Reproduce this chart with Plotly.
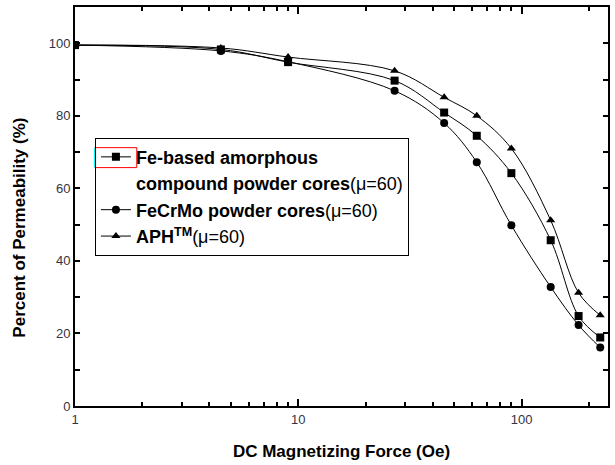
import plotly.graph_objects as go

# Data
dc_force = [1, 4.5, 9, 27, 45, 63, 90, 135, 180, 225]
fe_based = [99.5, 98.3, 94.8, 89.7, 80.9, 74.5, 64.2, 45.7, 24.8, 18.9]
fecrmo = [99.5, 97.9, 94.9, 86.9, 78.0, 67.2, 49.8, 32.8, 22.3, 16.1]
aph = [99.5, 98.7, 96.2, 92.4, 85.1, 80.0, 71.0, 51.2, 31.2, 25.0]

series_names = [
    "<b>Fe-based amorphous</b>",
    "<b>FeCrMo powder cores</b>(μ=60)",
    "<b>APH</b><sup><b>TM</b></sup>(μ=60)",
]
legend_continuation = "<b>compound powder cores</b>(μ=60)"
series_values = [fe_based, fecrmo, aph]
series_symbols = ["square", "circle", "triangle-up"]

x_major = [1, 10, 100]
x_major_text = ["1", "10", "100"]
x_minor = [m * d for d in (1, 10, 100) for m in range(2, 10) if m * d < 244]
y_ticks = [0, 20, 40, 60, 80, 100]

fig = go.Figure()
for i, (name, vals, sym) in enumerate(zip(series_names, series_values, series_symbols)):
    fig.add_trace(go.Scatter(
        x=dc_force, y=vals, name=name, mode="lines+markers",
        line=dict(color="black", width=1, shape="spline", smoothing=1.0),
        marker=dict(symbol=sym, size=8, color="black"),
    ))
    if i == 0:
        # second line of the first legend entry (text only)
        fig.add_trace(go.Scatter(
            x=[None], y=[None], name=legend_continuation, mode="lines",
            line=dict(color="rgba(0,0,0,0)", width=0), hoverinfo="skip",
        ))

L, R, T, B = 75, 5, 6, 59
W, H = 615, 465
pw, ph = W - L - R, H - T - B


def px_x(p):
    return (p - L) / pw


def px_y(p):
    return (H - B - p) / ph


fig.update_layout(
    width=W, height=H,
    margin=dict(l=L, r=R, t=T, b=B),
    paper_bgcolor="white", plot_bgcolor="white",
    font=dict(family="Liberation Sans, Arial, sans-serif", color="black"),
    showlegend=True,
    legend=dict(
        x=px_x(95), y=px_y(137), xanchor="left", yanchor="top",
        bordercolor="black", borderwidth=1, bgcolor="rgba(255,255,255,0)",
        font=dict(size=18, color="black"),
        itemwidth=30, tracegroupgap=0,
    ),
    xaxis=dict(
        type="log", range=[0, 2.387],
        tickvals=x_major, ticktext=x_major_text,
        ticks="inside", ticklen=7, tickwidth=2, tickcolor="black",
        showline=True, linewidth=2, linecolor="black", mirror="ticks",
        showgrid=False, zeroline=False,
        tickfont=dict(size=13, color="#333344"),
        minor=dict(tickvals=x_minor, ticks="inside", ticklen=4, tickwidth=2,
                   tickcolor="black", showgrid=False),
        title=dict(text="<b>DC Magnetizing Force (Oe)</b>", font=dict(size=17), standoff=20),
    ),
    yaxis=dict(
        range=[0, 110], tickvals=y_ticks,
        ticks="inside", ticklen=5, tickwidth=2, tickcolor="black",
        showline=True, linewidth=2, linecolor="black", mirror="ticks",
        showgrid=False, zeroline=False,
        tickfont=dict(size=13, color="#333344"),
        minor=dict(dtick=10, ticks="inside", ticklen=5, tickwidth=2,
                   tickcolor="black", showgrid=False),
    ),
    annotations=[
        dict(text="<b>Percent of Permeability (%)</b>", xref="paper", yref="paper",
             x=px_x(19), y=px_y(227), xanchor="center", yanchor="middle",
             textangle=-90, showarrow=False, font=dict(size=17, color="black")),
    ],
    shapes=[
        dict(type="rect", xref="paper", yref="paper", layer="above",
             x0=px_x(95), x1=px_x(137), y0=px_y(167), y1=px_y(147),
             line=dict(color="red", width=1)),
        dict(type="line", xref="paper", yref="paper", layer="above",
             x0=px_x(95), x1=px_x(95), y0=px_y(167), y1=px_y(147),
             line=dict(color="cyan", width=2)),
    ],
)

fig.write_html(
    "out.html",
    config={"displayModeBar": False},
    post_script="document.body.style.margin='0';document.body.style.overflow='hidden';",
)
